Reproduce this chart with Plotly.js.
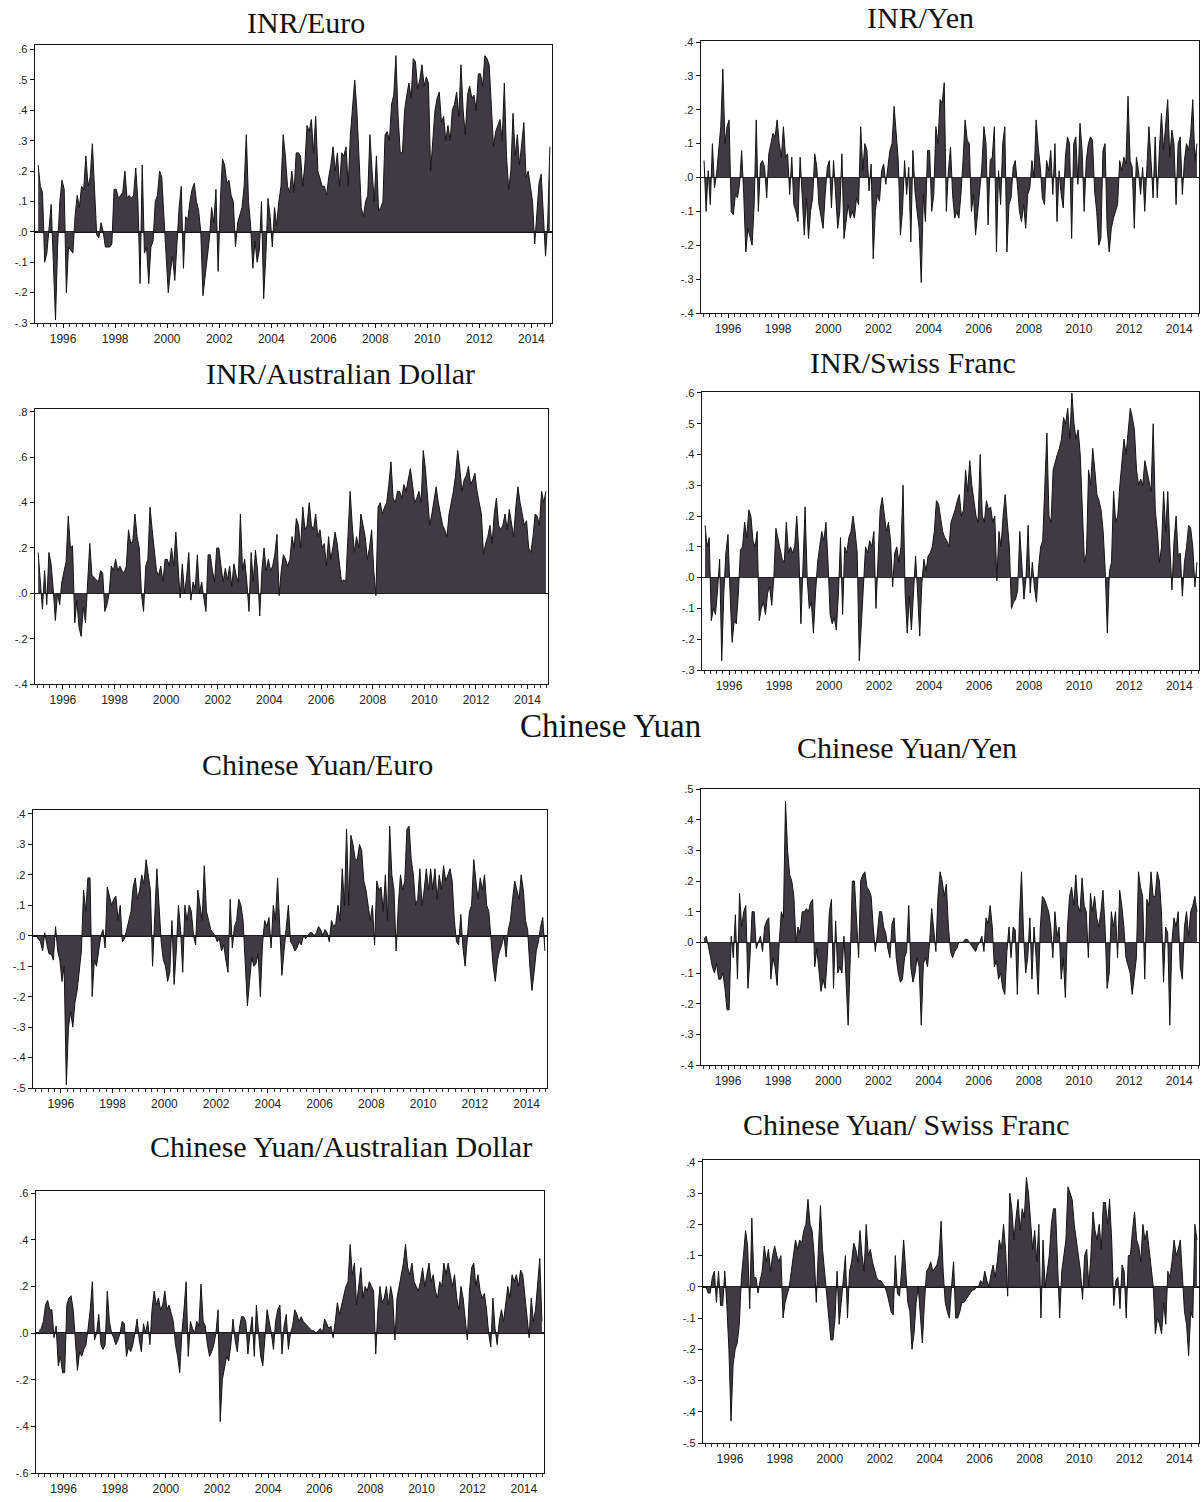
<!DOCTYPE html>
<html>
<head>
<meta charset="utf-8">
<script src="https://cdn.plot.ly/plotly-3.0.1.min.js"></script>
<style>
  html, body { margin: 0; padding: 0; background: #ffffff; }
  #chart { width: 1202px; height: 1502px; }
</style>
</head>
<body>
<div id="chart"></div>
<script>
// Monthly series, one row per year (1995 ... 2014, last year Jan-Sep).
const FIRST_YEAR = 1995;

const inrEuro = [
  [0.22, 0.15, 0.13, -0.10, -0.07, 0.02, 0.09, -0.10, -0.29, -0.04, 0.10, 0.17],
  [0.14, -0.20, -0.05, -0.06, -0.07, 0.05, 0.12, 0.08, 0.15, 0.14, 0.25, 0.15],
  [0.18, 0.29, 0.12, -0.01, -0.02, 0.03, 0.00, -0.05, -0.05, -0.05, -0.04, 0.14],
  [0.14, 0.11, 0.12, 0.13, 0.20, 0.11, 0.12, 0.11, 0.12, 0.21, 0.10, -0.17],
  [0.22, -0.07, -0.05, -0.17, -0.05, -0.03, 0.10, 0.12, 0.20, 0.18, 0.05, -0.10],
  [-0.20, -0.13, -0.08, -0.16, -0.05, 0.08, 0.15, -0.12, 0.05, 0.04, 0.10, 0.14],
  [0.16, 0.10, 0.07, 0.00, -0.21, -0.15, -0.08, -0.02, 0.08, 0.03, 0.14, -0.13],
  [0.10, 0.24, 0.22, 0.16, 0.17, 0.12, 0.10, -0.05, 0.03, 0.06, 0.08, 0.15],
  [0.32, 0.10, 0.02, -0.12, -0.03, -0.10, -0.06, 0.10, -0.22, -0.08, 0.11, 0.05],
  [-0.05, 0.08, 0.02, 0.10, 0.15, 0.32, 0.25, 0.15, 0.13, 0.20, 0.13, 0.26],
  [0.26, 0.25, 0.15, 0.22, 0.35, 0.33, 0.37, 0.26, 0.38, 0.20, 0.17, 0.15],
  [0.15, 0.12, 0.18, 0.22, 0.28, 0.20, 0.26, 0.15, 0.26, 0.25, 0.28, 0.15],
  [0.32, 0.40, 0.50, 0.40, 0.22, 0.08, 0.05, 0.10, 0.12, 0.32, 0.20, 0.10],
  [0.25, 0.07, 0.08, 0.10, 0.32, 0.33, 0.30, 0.42, 0.45, 0.58, 0.38, 0.26],
  [0.26, 0.40, 0.45, 0.49, 0.44, 0.57, 0.56, 0.47, 0.50, 0.55, 0.48, 0.51],
  [0.49, 0.20, 0.30, 0.40, 0.44, 0.46, 0.36, 0.38, 0.30, 0.35, 0.30, 0.40],
  [0.42, 0.46, 0.38, 0.55, 0.40, 0.32, 0.45, 0.48, 0.44, 0.45, 0.40, 0.52],
  [0.52, 0.48, 0.58, 0.57, 0.55, 0.40, 0.28, 0.33, 0.35, 0.37, 0.30, 0.49],
  [0.25, 0.14, 0.20, 0.39, 0.25, 0.32, 0.22, 0.30, 0.36, 0.18, 0.20, 0.15],
  [0.10, -0.04, 0.06, 0.16, 0.19, 0.05, -0.08, 0.03, 0.28]
];

const inrYen = [
  [0.05, -0.10, 0.02, -0.08, 0.10, -0.03, 0.01, 0.08, 0.15, 0.32, 0.10, 0.15],
  [0.17, -0.10, -0.11, -0.05, -0.06, -0.02, 0.08, -0.05, -0.22, -0.15, -0.18, -0.20],
  [-0.08, 0.17, -0.10, 0.04, 0.05, 0.03, -0.06, 0.07, 0.10, 0.13, 0.12, 0.17],
  [0.10, 0.06, 0.15, 0.06, 0.07, -0.05, 0.06, -0.08, -0.10, -0.13, 0.06, -0.05],
  [-0.17, -0.06, -0.18, -0.10, -0.06, 0.07, 0.03, -0.08, -0.12, -0.15, -0.05, 0.03],
  [0.05, -0.09, 0.05, -0.05, -0.15, -0.10, 0.07, -0.18, -0.13, -0.08, -0.12, -0.10],
  [-0.12, -0.06, -0.08, 0.15, 0.02, 0.10, 0.08, -0.04, 0.04, -0.24, -0.10, -0.05],
  [-0.07, 0.02, 0.04, -0.02, 0.03, 0.08, 0.10, 0.21, 0.13, 0.05, -0.17, -0.10],
  [0.05, -0.05, 0.03, -0.19, 0.08, -0.04, -0.10, -0.15, -0.31, -0.05, -0.13, 0.08],
  [0.08, -0.10, -0.05, 0.15, 0.10, 0.23, 0.22, 0.28, -0.10, 0.02, 0.09, -0.05],
  [-0.12, -0.10, -0.12, -0.05, 0.05, 0.17, 0.11, 0.10, -0.10, -0.05, -0.17, -0.10],
  [-0.05, 0.03, 0.15, 0.10, -0.14, 0.05, 0.06, 0.15, -0.22, 0.02, -0.08, 0.10],
  [0.15, -0.22, -0.08, -0.06, 0.03, 0.05, -0.02, -0.10, -0.13, -0.08, -0.15, -0.05],
  [-0.03, 0.05, 0.00, 0.17, 0.09, 0.03, -0.06, -0.08, 0.05, 0.02, 0.08, -0.05],
  [0.10, -0.13, 0.02, -0.05, -0.09, 0.06, 0.12, 0.10, -0.18, 0.10, 0.12, -0.02],
  [0.16, 0.08, -0.10, 0.05, 0.10, 0.12, 0.11, -0.04, -0.10, -0.20, -0.18, 0.08],
  [0.10, -0.15, -0.22, -0.15, -0.12, -0.10, -0.08, 0.05, 0.02, 0.06, 0.04, 0.24],
  [0.05, 0.03, -0.15, 0.06, 0.02, -0.05, 0.03, -0.10, 0.02, 0.15, 0.05, -0.06],
  [0.12, -0.06, 0.08, 0.19, 0.08, 0.15, 0.23, 0.06, 0.14, 0.10, -0.08, 0.10],
  [0.12, -0.05, 0.05, 0.10, 0.08, 0.13, 0.23, 0.05, 0.10]
];

const inrAud = [
  [0.18, 0.05, -0.07, 0.10, -0.05, 0.18, 0.13, 0.02, -0.12, 0.00, -0.05, 0.05],
  [0.10, 0.14, 0.34, 0.20, 0.21, -0.13, -0.03, -0.15, -0.19, -0.06, -0.13, 0.05],
  [0.22, 0.08, 0.07, 0.06, 0.05, 0.10, 0.09, -0.08, -0.05, 0.00, 0.12, 0.10],
  [0.15, 0.10, 0.12, 0.10, 0.09, 0.12, 0.28, 0.22, 0.23, 0.35, 0.25, 0.20],
  [0.00, -0.08, 0.12, 0.15, 0.38, 0.28, 0.20, 0.10, 0.08, 0.12, 0.05, 0.15],
  [0.15, 0.12, 0.20, 0.12, 0.27, 0.10, -0.02, 0.13, 0.00, 0.07, 0.18, -0.03],
  [0.05, 0.02, 0.17, 0.00, 0.05, -0.02, -0.08, 0.17, 0.17, 0.10, 0.05, 0.20],
  [0.20, 0.12, 0.05, 0.11, 0.06, 0.12, 0.03, 0.13, 0.08, 0.05, 0.35, 0.10],
  [0.15, 0.05, -0.08, 0.18, 0.05, 0.19, 0.10, -0.10, 0.10, 0.20, 0.10, 0.15],
  [0.10, 0.12, 0.17, 0.26, -0.01, 0.10, 0.17, 0.15, 0.12, 0.15, 0.25, 0.20],
  [0.33, 0.30, 0.20, 0.38, 0.28, 0.30, 0.40, 0.30, 0.28, 0.35, 0.25, 0.28],
  [0.20, 0.22, 0.12, 0.25, 0.15, 0.20, 0.27, 0.22, 0.12, 0.05, 0.06, 0.05],
  [0.25, 0.45, 0.30, 0.18, 0.25, 0.20, 0.35, 0.30, 0.25, 0.15, 0.20, 0.28],
  [0.10, -0.01, 0.38, 0.40, 0.35, 0.38, 0.40, 0.48, 0.58, 0.42, 0.40, 0.45],
  [0.45, 0.42, 0.48, 0.45, 0.50, 0.55, 0.48, 0.40, 0.42, 0.45, 0.40, 0.63],
  [0.55, 0.40, 0.30, 0.35, 0.42, 0.47, 0.40, 0.35, 0.30, 0.28, 0.25, 0.35],
  [0.40, 0.45, 0.52, 0.63, 0.55, 0.45, 0.50, 0.52, 0.56, 0.48, 0.50, 0.53],
  [0.45, 0.40, 0.35, 0.17, 0.22, 0.25, 0.30, 0.22, 0.35, 0.42, 0.30, 0.28],
  [0.30, 0.35, 0.28, 0.37, 0.30, 0.25, 0.38, 0.47, 0.40, 0.35, 0.30, 0.32],
  [0.20, 0.18, 0.25, 0.35, 0.34, 0.30, 0.45, 0.40, 0.45]
];

const inrChf = [
  [0.17, 0.10, 0.13, -0.14, -0.10, -0.12, -0.04, 0.06, -0.27, -0.05, 0.08, 0.14],
  [-0.05, -0.21, -0.14, -0.15, -0.05, 0.09, 0.10, 0.18, 0.13, 0.22, 0.20, 0.12],
  [0.10, 0.15, -0.14, -0.10, -0.08, -0.12, -0.05, -0.03, -0.09, 0.00, 0.16, 0.13],
  [0.10, 0.06, 0.05, 0.18, 0.08, 0.10, 0.08, 0.10, 0.20, 0.08, -0.15, 0.05],
  [0.23, 0.00, -0.10, -0.08, -0.18, -0.05, 0.05, 0.10, 0.15, 0.12, 0.18, 0.05],
  [-0.12, -0.15, -0.13, -0.17, -0.05, 0.13, -0.12, 0.10, 0.08, 0.13, 0.15, 0.20],
  [0.15, 0.08, -0.27, -0.15, -0.02, 0.10, 0.08, 0.12, 0.10, 0.15, -0.10, 0.05],
  [0.22, 0.26, 0.20, 0.15, 0.18, 0.12, -0.03, 0.08, 0.10, 0.05, 0.10, 0.30],
  [-0.05, -0.18, -0.06, -0.17, -0.05, 0.07, -0.05, -0.19, -0.02, 0.06, 0.02, 0.07],
  [0.08, 0.10, 0.15, 0.25, 0.24, 0.20, 0.15, 0.13, 0.12, 0.10, 0.18, 0.20],
  [0.22, 0.25, 0.27, 0.20, 0.22, 0.35, 0.28, 0.38, 0.30, 0.25, 0.20, 0.18],
  [0.40, 0.20, 0.18, 0.25, 0.22, 0.23, 0.18, 0.20, -0.01, 0.15, 0.10, 0.20],
  [0.27, 0.18, 0.10, -0.10, -0.08, -0.07, -0.04, 0.15, 0.05, -0.07, 0.00, 0.17],
  [-0.05, 0.05, -0.03, -0.08, 0.03, 0.10, 0.12, 0.30, 0.47, 0.20, 0.18, 0.35],
  [0.38, 0.40, 0.42, 0.45, 0.52, 0.50, 0.55, 0.45, 0.60, 0.50, 0.45, 0.48],
  [0.40, 0.20, 0.05, 0.08, 0.35, 0.30, 0.42, 0.35, 0.27, 0.25, 0.22, 0.15],
  [0.02, -0.18, 0.02, 0.05, 0.28, 0.18, 0.20, 0.30, 0.38, 0.45, 0.40, 0.48],
  [0.55, 0.52, 0.48, 0.35, 0.30, 0.32, 0.30, 0.38, 0.35, 0.32, 0.28, 0.50],
  [0.22, 0.15, 0.05, 0.10, 0.28, 0.15, 0.28, 0.10, -0.04, 0.12, 0.20, 0.07],
  [0.08, -0.06, 0.05, 0.10, 0.17, 0.16, 0.10, -0.03, 0.05]
];

const cnyEuro = [
  [0.00, -0.01, -0.02, -0.05, 0.01, -0.03, -0.06, -0.06, -0.08, 0.03, -0.05, -0.08],
  [-0.15, -0.10, -0.49, -0.30, -0.25, -0.30, -0.22, -0.18, -0.12, -0.05, 0.15, 0.08],
  [0.19, 0.19, -0.20, -0.08, -0.10, -0.05, 0.00, 0.02, -0.04, 0.16, 0.13, 0.10],
  [0.12, 0.13, 0.05, 0.10, -0.02, -0.01, 0.02, 0.05, 0.08, 0.16, 0.19, 0.12],
  [0.15, 0.20, 0.17, 0.25, 0.20, 0.15, -0.10, 0.05, 0.22, 0.10, -0.02, -0.08],
  [-0.10, -0.15, -0.12, 0.05, -0.16, -0.05, 0.10, 0.02, -0.12, 0.10, 0.05, 0.10],
  [0.08, 0.00, -0.03, 0.15, 0.10, 0.05, 0.23, 0.08, 0.05, 0.02, 0.01, 0.00],
  [-0.02, -0.01, -0.05, -0.03, -0.08, -0.12, 0.12, -0.04, 0.03, 0.05, 0.12, 0.10],
  [0.05, -0.10, -0.23, -0.15, -0.07, -0.10, -0.09, -0.06, -0.20, -0.03, 0.05, 0.03],
  [0.06, -0.04, 0.10, 0.05, 0.19, 0.03, -0.13, -0.05, 0.02, 0.10, -0.02, -0.03],
  [-0.05, -0.04, -0.02, -0.03, 0.00, -0.01, 0.00, 0.01, 0.01, 0.00, 0.01, 0.03],
  [0.02, 0.00, 0.02, 0.01, -0.02, 0.05, 0.03, 0.04, 0.10, 0.05, 0.22, 0.10],
  [0.35, 0.10, 0.33, 0.30, 0.25, 0.25, 0.30, 0.28, 0.18, 0.15, 0.10, 0.05],
  [0.10, -0.03, 0.18, 0.15, 0.16, 0.08, 0.20, 0.05, 0.36, 0.20, 0.15, -0.05],
  [0.10, 0.20, 0.15, 0.18, 0.35, 0.36, 0.25, 0.20, 0.10, 0.12, 0.22, 0.10],
  [0.15, 0.22, 0.15, 0.22, 0.15, 0.22, 0.12, 0.20, 0.15, 0.23, 0.18, 0.20],
  [0.22, 0.18, 0.05, -0.02, -0.03, 0.07, -0.04, -0.10, -0.02, 0.08, 0.10, 0.25],
  [0.18, 0.12, 0.19, 0.15, 0.20, 0.10, 0.08, -0.02, -0.10, -0.15, -0.08, -0.05],
  [-0.03, 0.00, -0.07, 0.02, 0.05, 0.12, 0.18, 0.15, 0.12, 0.20, 0.15, 0.05],
  [0.02, -0.10, -0.18, -0.12, -0.05, -0.02, 0.03, 0.06, -0.05]
];

const cnyYen = [
  [0.01, 0.02, -0.01, -0.05, -0.08, -0.10, -0.07, -0.12, -0.12, -0.10, -0.15, -0.22],
  [-0.22, 0.02, -0.05, 0.09, -0.12, 0.16, 0.05, 0.10, 0.12, -0.15, -0.05, 0.10],
  [0.10, -0.02, 0.00, 0.02, -0.03, 0.05, 0.07, 0.08, -0.12, -0.05, -0.08, -0.14],
  [0.00, 0.10, 0.08, 0.46, 0.30, 0.22, 0.20, 0.15, 0.00, 0.05, 0.03, 0.10],
  [0.10, 0.11, 0.10, 0.13, 0.14, -0.08, -0.02, -0.10, -0.16, -0.12, -0.15, -0.05],
  [0.10, 0.14, -0.15, 0.07, -0.10, -0.08, -0.10, 0.02, -0.12, -0.27, -0.05, 0.20],
  [0.20, 0.05, -0.05, 0.20, 0.22, 0.23, 0.18, 0.17, 0.15, 0.05, -0.03, 0.03],
  [0.10, 0.10, 0.05, 0.03, -0.02, -0.05, 0.06, 0.08, -0.05, -0.10, -0.13, -0.12],
  [-0.05, -0.03, 0.12, -0.08, -0.13, -0.10, -0.05, -0.08, -0.27, -0.07, -0.05, -0.08],
  [0.00, 0.11, 0.05, -0.03, 0.15, 0.23, 0.20, 0.15, 0.19, 0.05, -0.03, -0.05],
  [-0.03, -0.02, 0.00, 0.00, 0.00, 0.01, 0.01, 0.00, -0.01, -0.02, -0.03, -0.01],
  [0.00, 0.02, -0.03, 0.08, 0.06, 0.12, 0.05, -0.08, -0.06, -0.12, -0.10, -0.15],
  [-0.17, -0.03, 0.05, -0.05, 0.05, 0.04, -0.17, 0.08, 0.23, 0.02, -0.10, -0.05],
  [0.08, -0.12, 0.05, -0.05, -0.17, 0.05, 0.15, 0.14, 0.12, 0.10, 0.05, -0.05],
  [0.10, 0.02, 0.05, -0.12, -0.05, -0.18, 0.05, 0.15, 0.18, 0.12, 0.22, 0.12],
  [0.10, 0.21, 0.12, 0.10, -0.05, 0.16, 0.10, 0.15, 0.08, 0.05, 0.10, 0.17],
  [0.05, -0.15, -0.10, 0.10, 0.05, 0.10, -0.05, 0.17, 0.12, 0.05, -0.05, -0.08],
  [-0.10, -0.17, -0.10, -0.05, 0.23, 0.18, 0.15, -0.12, 0.14, 0.12, 0.23, 0.15],
  [0.15, 0.23, 0.20, 0.10, -0.13, 0.05, 0.03, -0.27, 0.00, 0.08, 0.05, 0.10],
  [-0.08, -0.12, 0.05, 0.10, 0.02, 0.10, 0.12, 0.15, 0.10]
];

const cnyAud = [
  [0.01, 0.02, 0.05, 0.12, 0.14, 0.10, 0.10, -0.02, 0.03, -0.14, -0.10, -0.17],
  [-0.17, 0.12, 0.15, 0.16, 0.10, -0.05, -0.16, -0.08, -0.10, -0.07, -0.05, 0.02],
  [0.10, 0.22, -0.03, 0.00, 0.08, -0.05, -0.07, -0.05, 0.18, 0.05, 0.00, -0.02],
  [-0.05, -0.03, 0.00, 0.05, 0.04, -0.10, -0.06, -0.08, -0.05, 0.00, 0.06, -0.03],
  [-0.08, 0.04, 0.00, 0.05, -0.05, 0.10, 0.18, 0.12, 0.15, 0.10, 0.12, 0.18],
  [0.10, 0.12, 0.08, 0.05, -0.05, -0.10, -0.17, 0.00, 0.10, 0.22, -0.10, 0.05],
  [0.02, 0.00, 0.05, 0.03, 0.21, 0.05, 0.03, -0.05, -0.10, -0.08, -0.05, 0.00],
  [0.10, -0.38, -0.20, -0.15, -0.10, -0.12, -0.05, 0.06, -0.03, -0.08, 0.02, 0.07],
  [0.07, 0.05, -0.09, 0.00, 0.07, -0.10, 0.12, 0.00, -0.10, -0.14, 0.00, 0.10],
  [0.05, 0.00, -0.07, 0.05, 0.10, 0.12, -0.09, 0.03, 0.08, -0.07, 0.00, 0.03],
  [0.10, 0.08, 0.05, 0.07, 0.05, 0.04, 0.03, 0.02, 0.01, 0.01, 0.00, 0.01],
  [0.02, 0.00, 0.06, 0.04, 0.02, 0.03, -0.02, 0.05, 0.13, 0.08, 0.12, 0.15],
  [0.20, 0.22, 0.38, 0.25, 0.30, 0.12, 0.20, 0.28, 0.15, 0.20, 0.18, 0.22],
  [0.20, 0.18, -0.09, 0.10, 0.20, 0.13, 0.15, 0.20, 0.12, 0.20, 0.15, -0.03],
  [0.15, 0.20, 0.25, 0.30, 0.38, 0.28, 0.25, 0.30, 0.22, 0.20, 0.18, 0.22],
  [0.28, 0.20, 0.25, 0.30, 0.22, 0.25, 0.18, 0.15, 0.22, 0.20, 0.30, 0.25],
  [0.30, 0.25, 0.20, 0.25, 0.15, 0.10, 0.20, 0.15, 0.05, -0.03, 0.18, 0.28],
  [0.30, 0.20, 0.25, 0.18, 0.15, 0.17, 0.10, 0.00, -0.06, 0.15, 0.02, -0.05],
  [0.05, 0.10, 0.05, 0.12, 0.20, 0.15, 0.25, 0.22, 0.25, 0.20, 0.27, 0.25],
  [0.15, 0.08, -0.02, 0.15, 0.05, 0.10, 0.20, 0.32, 0.05]
];

const cnyChf = [
  [0.00, -0.02, -0.02, 0.03, 0.05, -0.05, 0.05, -0.06, -0.06, 0.05, -0.06, -0.20],
  [-0.43, -0.25, -0.20, -0.18, -0.12, 0.03, 0.10, 0.18, 0.13, -0.07, 0.22, 0.03],
  [0.03, -0.02, 0.02, 0.05, 0.13, 0.08, 0.12, 0.05, 0.10, 0.13, 0.10, 0.08],
  [0.10, -0.10, -0.05, -0.02, 0.00, 0.05, 0.10, 0.15, 0.12, 0.15, 0.14, 0.18],
  [0.20, 0.28, 0.20, 0.18, 0.10, -0.05, 0.12, 0.26, 0.12, 0.05, -0.02, -0.08],
  [-0.17, -0.17, -0.10, 0.05, -0.12, -0.05, 0.02, 0.10, -0.10, 0.05, 0.08, 0.14],
  [0.12, 0.08, 0.18, 0.10, 0.05, 0.20, 0.10, 0.12, 0.08, 0.05, 0.03, 0.02],
  [0.02, 0.01, 0.00, -0.02, -0.05, -0.08, -0.09, 0.10, -0.02, -0.03, 0.05, 0.15],
  [0.05, -0.05, -0.08, -0.20, -0.15, -0.05, 0.00, -0.08, -0.18, -0.05, 0.05, 0.06],
  [0.08, 0.05, 0.06, 0.07, 0.10, 0.21, 0.05, -0.05, -0.08, -0.10, 0.00, 0.08],
  [-0.10, -0.10, -0.08, -0.05, -0.05, -0.04, -0.03, -0.02, -0.01, -0.01, 0.00, 0.00],
  [0.02, 0.01, 0.05, 0.02, 0.00, 0.04, 0.07, 0.03, 0.08, 0.15, 0.12, 0.20],
  [0.12, -0.03, 0.30, 0.25, 0.15, 0.22, 0.28, 0.18, 0.25, 0.22, 0.35, 0.30],
  [0.20, 0.12, 0.18, 0.08, 0.20, -0.10, 0.15, 0.00, 0.05, 0.10, 0.20, 0.25],
  [0.25, 0.10, -0.10, 0.05, 0.10, 0.15, 0.32, 0.30, 0.28, 0.20, 0.15, 0.10],
  [0.05, -0.04, 0.10, 0.12, 0.00, 0.10, 0.24, 0.18, 0.15, 0.20, 0.12, 0.27],
  [0.27, 0.20, 0.28, 0.15, -0.06, 0.02, 0.03, -0.07, 0.07, 0.05, -0.10, 0.10],
  [0.10, 0.18, 0.24, 0.15, 0.13, 0.08, 0.20, 0.15, 0.18, 0.12, 0.05, 0.00],
  [-0.15, -0.10, -0.12, -0.15, -0.05, -0.12, 0.05, 0.03, 0.08, 0.15, 0.10, 0.12],
  [0.15, 0.05, -0.08, -0.12, -0.22, -0.08, -0.10, 0.20, 0.15]
];

// Axis labels
const yearTicks = [1996, 1998, 2000, 2002, 2004, 2006, 2008, 2010, 2012, 2014];
const yearLabels = ['1996', '1998', '2000', '2002', '2004', '2006', '2008', '2010', '2012', '2014'];

const ticksSixToMinusThree = [0.6, 0.5, 0.4, 0.3, 0.2, 0.1, 0, -0.1, -0.2, -0.3];
const labelsSixToMinusThree = ['.6', '.5', '.4', '.3', '.2', '.1', '.0', '-.1', '-.2', '-.3'];
const ticksFourToMinusFour = [0.4, 0.3, 0.2, 0.1, 0, -0.1, -0.2, -0.3, -0.4];
const labelsFourToMinusFour = ['.4', '.3', '.2', '.1', '.0', '-.1', '-.2', '-.3', '-.4'];
const ticksEightToMinusFour = [0.8, 0.6, 0.4, 0.2, 0, -0.2, -0.4];
const labelsEightToMinusFour = ['.8', '.6', '.4', '.2', '.0', '-.2', '-.4'];
const ticksFourToMinusFive = [0.4, 0.3, 0.2, 0.1, 0, -0.1, -0.2, -0.3, -0.4, -0.5];
const labelsFourToMinusFive = ['.4', '.3', '.2', '.1', '.0', '-.1', '-.2', '-.3', '-.4', '-.5'];
const ticksFiveToMinusFour = [0.5, 0.4, 0.3, 0.2, 0.1, 0, -0.1, -0.2, -0.3, -0.4];
const labelsFiveToMinusFour = ['.5', '.4', '.3', '.2', '.1', '.0', '-.1', '-.2', '-.3', '-.4'];
const ticksSixToMinusSix = [0.6, 0.4, 0.2, 0, -0.2, -0.4, -0.6];
const labelsSixToMinusSix = ['.6', '.4', '.2', '.0', '-.2', '-.4', '-.6'];

const panelTitles = [
  'INR/Euro', 'INR/Yen', 'INR/Australian Dollar', 'INR/Swiss Franc',
  'Chinese Yuan/Euro', 'Chinese Yuan/Yen', 'Chinese Yuan/Australian Dollar', 'Chinese Yuan/ Swiss Franc'
];
const sectionHeading = 'Chinese Yuan';

// Page geometry (pixels on a 1202 x 1502 page)
const W = 1202, H = 1502;
const panels = [
  { data: inrEuro, title: panelTitles[0], x0: 35, x1: 552, top: 45, bottom: 323, yr: [-0.3, 0.615], tv: ticksSixToMinusThree, tt: labelsSixToMinusThree, tx: 306, ty: 22 },
  { data: inrYen, title: panelTitles[1], x0: 701, x1: 1199, top: 41, bottom: 313, yr: [-0.4, 0.403], tv: ticksFourToMinusFour, tt: labelsFourToMinusFour, tx: 920, ty: 17 },
  { data: inrAud, title: panelTitles[2], x0: 35, x1: 548, top: 409, bottom: 684, yr: [-0.4, 0.813], tv: ticksEightToMinusFour, tt: labelsEightToMinusFour, tx: 340, ty: 374 },
  { data: inrChf, title: panelTitles[3], x0: 702, x1: 1199, top: 392, bottom: 670, yr: [-0.3, 0.603], tv: ticksSixToMinusThree, tt: labelsSixToMinusThree, tx: 913, ty: 362 },
  { data: cnyEuro, title: panelTitles[4], x0: 33, x1: 547, top: 810, bottom: 1088, yr: [-0.5, 0.413], tv: ticksFourToMinusFive, tt: labelsFourToMinusFive, tx: 317, ty: 764 },
  { data: cnyYen, title: panelTitles[5], x0: 701, x1: 1199, top: 789, bottom: 1065, yr: [-0.4, 0.5], tv: ticksFiveToMinusFour, tt: labelsFiveToMinusFour, tx: 907, ty: 747 },
  { data: cnyAud, title: panelTitles[6], x0: 36, x1: 544, top: 1191, bottom: 1473, yr: [-0.6, 0.609], tv: ticksSixToMinusSix, tt: labelsSixToMinusSix, tx: 341, ty: 1146 },
  { data: cnyChf, title: panelTitles[7], x0: 703, x1: 1199, top: 1160, bottom: 1443, yr: [-0.5, 0.406], tv: ticksFourToMinusFive, tt: labelsFourToMinusFive, tx: 906, ty: 1124 }
];

const FILL = '#403a43';
const INK = '#141414';
const xTickFont = { family: 'Liberation Sans, Arial, sans-serif', size: 12, color: '#222' };
const yTickFont = { family: 'Liberation Sans, Arial, sans-serif', size: 11, color: '#222' };
const titleFont = { family: 'Liberation Serif, Times New Roman, serif', size: 30, color: '#111' };

// Month positions as fractional years
function toSeries(rows) {
  const xs = [], ys = [];
  rows.forEach((row, r) => {
    row.forEach((v, m) => {
      xs.push(FIRST_YEAR + r + (m + 0.5) / 12);
      ys.push(v);
    });
  });
  return { xs, ys };
}

const traces = [];
const layout = {
  width: W, height: H,
  margin: { l: 0, r: 0, t: 0, b: 0 },
  paper_bgcolor: '#ffffff',
  plot_bgcolor: '#ffffff',
  showlegend: false,
  annotations: []
};

panels.forEach((p, i) => {
  const n = i + 1;
  const xName = n === 1 ? 'xaxis' : 'xaxis' + n;
  const yName = n === 1 ? 'yaxis' : 'yaxis' + n;
  const s = toSeries(p.data);

  traces.push({
    type: 'scatter', mode: 'lines',
    x: s.xs, y: s.ys,
    xaxis: 'x' + n, yaxis: 'y' + n,
    fill: 'tozeroy', fillcolor: FILL,
    line: { color: INK, width: 1 },
    hoverinfo: 'skip'
  });

  layout[xName] = {
    domain: [p.x0 / W, p.x1 / W],
    anchor: 'y' + n,
    range: [1994.92, 2014.79],
    tickmode: 'array', tickvals: yearTicks, ticktext: yearLabels,
    ticks: 'outside', ticklen: 4, tickwidth: 1, tickcolor: INK,
    minor: { ticks: 'outside', ticklen: 3, tickwidth: 1, tickcolor: '#333', tickmode: 'linear', tick0: 1995, dtick: 0.25, showgrid: false },
    showline: true, mirror: true, linecolor: INK, linewidth: 1.3,
    showgrid: false, zeroline: false,
    tickfont: xTickFont, fixedrange: true
  };

  layout[yName] = {
    domain: [1 - p.bottom / H, 1 - p.top / H],
    anchor: 'x' + n,
    range: p.yr,
    tickmode: 'array', tickvals: p.tv, ticktext: p.tt,
    ticks: 'outside', ticklen: 4, tickwidth: 1, tickcolor: INK,
    showline: true, mirror: true, linecolor: INK, linewidth: 1.3,
    showgrid: false,
    zeroline: true, zerolinecolor: INK, zerolinewidth: 1.6,
    tickfont: yTickFont, fixedrange: true
  };

  layout.annotations.push({
    text: p.title, xref: 'paper', yref: 'paper',
    x: p.tx / W, y: 1 - p.ty / H,
    xanchor: 'center', yanchor: 'middle',
    showarrow: false, font: titleFont
  });
});

layout.annotations.push({
  text: sectionHeading, xref: 'paper', yref: 'paper',
  x: 610 / W, y: 1 - 726 / H,
  xanchor: 'center', yanchor: 'middle',
  showarrow: false,
  font: { family: 'Liberation Serif, Times New Roman, serif', size: 33, color: '#111' }
});

Plotly.newPlot('chart', traces, layout, { staticPlot: true, displayModeBar: false });
</script>
</body>
</html>
